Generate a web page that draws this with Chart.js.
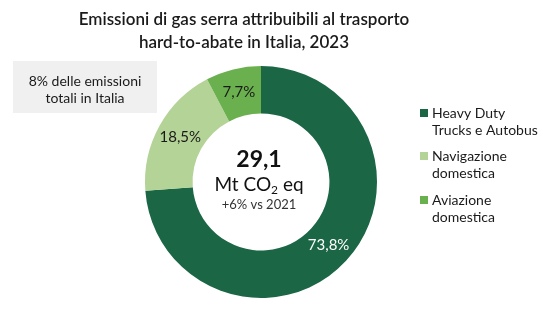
<!DOCTYPE html>
<html>
<head>
<meta charset="utf-8">
<script src="https://cdn.jsdelivr.net/npm/chart.js@4/dist/chart.umd.min.js"></script>
<style>
html,body{margin:0;padding:0;background:#fff;}
#wrap{position:relative;width:543px;height:336px;}
</style>
</head>
<body>
<div id="wrap"><canvas id="donut" width="543" height="336"></canvas></div>
<script>
// categories / values
const labels=["Heavy Duty Trucks e Autobus","Navigazione domestica","Aviazione domestica"];
const legendLines=[["Heavy Duty","Trucks e Autobus"],["Navigazione","domestica"],["Aviazione","domestica"]];
const shares=[73.8,18.5,7.7];
const colors=["#1b6645","#b4d396","#6bb04e"];
const labelColors=["#ffffff","#1a1a1a","#1a1a1a"];
const titleLines=["Emissioni di gas serra attribuibili al trasporto","hard-to-abate in Italia, 2023"];
const noteLines=["8% delle emissioni","totali in Italia"];
const centerValue="29,1";
const centerSub="+6% vs 2021";

const FONT="Lato, 'Noto Sans', sans-serif";

const decor={
  id:"decor",
  beforeDraw(chart){
    const c=chart.ctx;
    c.save();
    c.fillStyle="#f0f0f0";
    c.fillRect(13,61,144,52);
    c.restore();
  },
  afterDraw(chart){
    const c=chart.ctx;
    c.save();
    c.fillStyle="#1a1a1a";
    c.textAlign="center";
    c.textBaseline="middle";
    // title
    c.font="600 17px "+FONT;
    c.fillText(titleLines[0],244,20);
    c.fillText(titleLines[1],244,43);
    // note box
    c.font="14px "+FONT;
    c.fillText(noteLines[0],85,81);
    c.fillText(noteLines[1],85,98);
    // slice labels
    const meta=chart.getDatasetMeta(0);
    c.font="15px "+FONT;
    meta.data.forEach((arc,i)=>{
      const p=arc.tooltipPosition();
      c.fillStyle=labelColors[i];
      c.fillText(shares[i].toFixed(1).replace(".",",")+"%",p.x,p.y);
    });
    // center text
    const cx=meta.data[0].x;
    c.fillStyle="#111";
    c.font="bold 23px "+FONT;
    c.fillText(centerValue,cx-2,160);
    c.textAlign="left";
    const a="Mt CO",b=" eq";
    c.font="19px "+FONT;
    const wa=c.measureText(a).width;
    c.font="12px "+FONT;
    const w2=c.measureText("2").width;
    c.font="19px "+FONT;
    const wb=c.measureText(b).width;
    let x0=cx-2-(wa+w2+wb)/2;
    c.fillText(a,x0,185);
    c.font="12px "+FONT;
    c.fillText("2",x0+wa,190);
    c.font="19px "+FONT;
    c.fillText(b,x0+wa+w2,185);
    c.textAlign="center";
    c.fillStyle="#333";
    c.font="13px "+FONT;
    c.fillText(centerSub,cx-2,205);
    // legend
    c.textAlign="left";
    c.font="14px "+FONT;
    const ys=[113,156,200];
    legendLines.forEach((ln,i)=>{
      c.fillStyle=colors[i];
      c.fillRect(420,ys[i]-4,8,8);
      c.fillStyle="#1a1a1a";
      c.fillText(ln[0],432,ys[i]);
      c.fillText(ln[1],432,ys[i]+17);
    });
    c.restore();
  }
};

new Chart(document.getElementById("donut"),{
  type:"doughnut",
  data:{
    labels:labels,
    datasets:[{
      data:shares,
      backgroundColor:colors,
      borderWidth:0
    }]
  },
  options:{
    responsive:false,
    animation:false,
    cutout:"59%",
    layout:{padding:{left:145,right:166,top:66,bottom:38}},
    plugins:{legend:{display:false},tooltip:{enabled:false},title:{display:false}}
  },
  plugins:[decor]
});
</script>
</body>
</html>
